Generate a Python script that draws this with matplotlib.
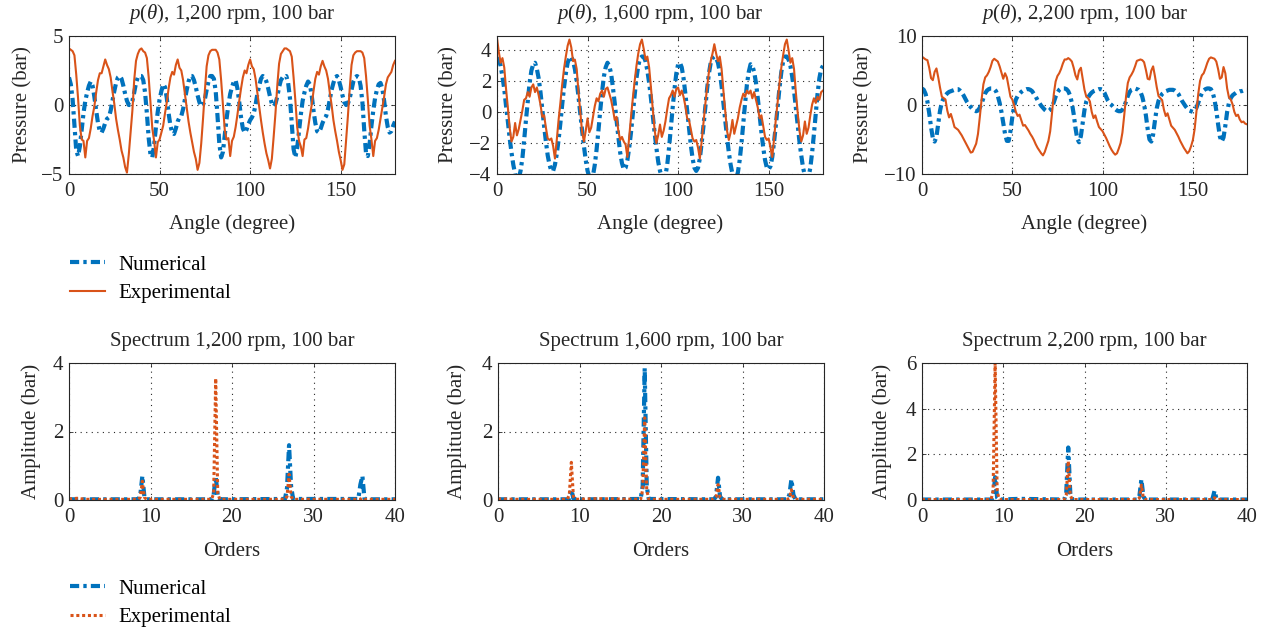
import numpy as np
import matplotlib
matplotlib.use("Agg")
import matplotlib.pyplot as plt

plt.rcParams["font.family"] = ["Liberation Serif", "DejaVu Serif"]
plt.rcParams["mathtext.fontset"] = "custom"
plt.rcParams["mathtext.rm"] = "Liberation Serif"
plt.rcParams["mathtext.it"] = "Liberation Serif:italic"
plt.rcParams["font.size"] = 15

BLUE = "#0072BD"
ORANGE = "#D95319"
DARK = "#262626"
FS = 15

# ---- crank angle samples (degree) ----
ANGLE = np.arange(0, 181)

# ---- pressure ripple, 1,200 rpm ----
P1200_NUM = [
    2.0, 1.5, 0.4, -1.5, -3.3, -3.7, -3.0, -1.8, -0.6, 0.3,
    0.9, 1.4, 1.7, 1.4, 0.6, -0.4, -1.3, -1.9, -2.0, -1.7,
    -1.3, -1.0, -0.9, -0.4, 0.3, 1.0, 1.6, 2.0, 2.1, 1.9,
    1.4, 0.8, 0.3, 0.0, 0.0, 0.3, 0.9, 1.6, 2.0, 2.1,
    2.1, 1.8, 0.9, -0.6, -2.4, -3.6, -3.8, -2.9, -1.6, -0.5,
    0.4, 1.0, 1.5, 1.3, 0.5, -0.6, -1.5, -2.0, -2.1, -1.7,
    -1.2, -0.9, -0.8, -0.3, 0.4, 1.1, 1.7, 2.1, 2.1, 1.8,
    1.3, 0.7, 0.2, -0.1, 0.0, 0.4, 1.1, 1.7, 2.1, 2.1,
    1.9, 1.0, -0.8, -2.8, -3.8, -3.4, -2.2, -1.0, 0.0, 0.8,
    1.3, 1.7, 1.8, 1.2, 0.2, -0.9, -1.7, -2.0, -1.8, -1.4,
    -1.1, -0.9, -0.6, 0.0, 0.8, 1.4, 1.9, 2.1, 2.0, 1.7,
    1.2, 0.6, 0.1, -0.1, 0.1, 0.6, 1.3, 1.8, 2.0, 2.0,
    2.1, 1.6, 0.5, -1.4, -3.2, -3.8, -3.1, -1.9, -0.7, 0.3,
    0.9, 1.4, 1.7, 1.5, 0.7, -0.4, -1.3, -1.9, -2.0, -1.7,
    -1.3, -1.0, -0.8, -0.3, 0.4, 1.1, 1.6, 2.0, 2.1, 1.8,
    1.3, 0.7, 0.2, 0.0, 0.1, 0.5, 1.1, 1.7, 2.0, 2.1,
    2.0, 1.4, 0.2, -1.8, -3.5, -3.7, -2.8, -1.5, -0.4, 0.5,
    1.1, 1.5, 1.6, 1.2, 0.3, -0.8, -1.6, -2.0, -1.9, -1.5,
    -1.2,
]
P1200_EXP = [
    4.1, 4.0, 3.9, 3.6, 2.2, 0.5, -1.5, -2.5, -2.6, -3.8,
    -2.6, -2.4, -1.7, -0.8, -0.1, 0.9, 1.8, 2.3, 2.3, 2.8,
    3.3, 2.9, 2.6, 2.0, 1.0, 0.1, -1.0, -1.8, -2.5, -3.3,
    -3.8, -4.5, -4.9, -3.6, -2.0, -0.4, 1.8, 3.2, 3.7, 4.0,
    4.1, 3.9, 3.8, 3.4, 2.0, 0.2, -1.7, -2.6, -3.8, -2.7,
    -2.5, -2.0, -1.5, -0.6, 0.2, 1.2, 2.0, 2.4, 2.2, 2.9,
    3.3, 2.7, 2.5, 1.8, 0.8, -0.2, -1.2, -2.0, -2.7, -3.4,
    -3.9, -4.7, -4.2, -2.8, -1.0, 1.0, 2.8, 3.6, 3.9, 4.0,
    4.0, 4.0, 3.8, 3.3, 1.8, 0.0, -1.8, -2.5, -2.4, -3.7,
    -2.6, -2.3, -1.6, -0.7, 0.3, 1.2, 2.0, 2.5, 2.3, 2.9,
    3.3, 2.8, 2.6, 1.9, 0.9, -0.1, -1.1, -2.0, -2.8, -3.5,
    -4.0, -4.6, -3.9, -2.3, -0.6, 1.4, 3.0, 3.7, 3.9, 4.1,
    4.1, 4.0, 3.9, 3.5, 2.0, 0.3, -1.6, -2.6, -3.0, -3.7,
    -2.5, -2.4, -1.7, -0.8, 0.0, 1.0, 1.9, 2.4, 2.2, 2.8,
    3.2, 2.8, 2.5, 1.9, 0.9, 0.0, -1.1, -1.9, -2.6, -3.4,
    -4.0, -4.7, -4.3, -2.6, -0.8, 1.2, 2.9, 3.6, 3.8, 3.9,
    3.9, 3.9, 3.8, 3.4, 2.1, 0.4, -1.5, -2.5, -3.7, -2.6,
    -2.4, -1.8, -1.0, -0.2, 0.6, 1.5, 2.0, 2.2, 2.4, 2.9,
    3.2,
]

# ---- pressure ripple, 1,600 rpm ----
P1600_NUM = [
    3.5, 3.4, 3.0, 2.3, 1.5, 0.4, -0.6, -1.7, -2.6, -3.4,
    -4.0, -4.3, -4.3, -3.8, -3.0, -1.8, -0.5, 0.7, 1.9, 2.7,
    3.1, 3.2, 2.8, 2.2, 1.3, 0.2, -0.9, -1.9, -2.8, -3.4,
    -3.8, -3.8, -3.4, -2.7, -1.8, -0.7, 0.5, 1.6, 2.5, 3.2,
    3.5, 3.6, 3.3, 2.8, 2.0, 1.0, -0.1, -1.2, -2.2, -3.1,
    -3.8, -4.2, -4.4, -4.1, -3.4, -2.4, -1.2, 0.1, 1.3, 2.3,
    2.9, 3.2, 3.0, 2.5, 1.6, 0.6, -0.5, -1.6, -2.6, -3.3,
    -3.7, -3.6, -3.1, -2.3, -1.3, -0.1, 1.1, 2.2, 3.0, 3.5,
    3.6, 3.6, 3.3, 2.7, 1.9, 0.9, -0.2, -1.3, -2.3, -3.2,
    -3.8, -4.2, -4.4, -4.1, -3.4, -2.3, -1.0, 0.3, 1.5, 2.5,
    3.1, 3.2, 2.9, 2.2, 1.2, 0.1, -1.0, -2.1, -3.0, -3.6,
    -3.8, -3.6, -3.0, -2.0, -0.9, 0.3, 1.5, 2.5, 3.2, 3.5,
    3.6, 3.5, 3.2, 2.6, 1.7, 0.6, -0.5, -1.6, -2.6, -3.4,
    -4.0, -4.3, -4.3, -3.9, -3.1, -2.0, -0.7, 0.6, 1.8, 2.6,
    3.1, 3.0, 2.6, 1.9, 0.9, -0.2, -1.3, -2.3, -3.1, -3.6,
    -3.7, -3.5, -2.9, -1.9, -0.8, 0.4, 1.6, 2.6, 3.3, 3.6,
    3.6, 3.4, 3.0, 2.3, 1.4, 0.3, -0.8, -1.9, -2.8, -3.6,
    -4.1, -4.4, -4.2, -3.6, -2.6, -1.4, -0.1, 1.2, 2.2, 2.8,
    3.0,
]
P1600_EXP = [
    4.8, 3.9, 3.2, 3.5, 2.9, 1.5, 0.3, -1.0, -1.9, -1.6,
    -0.7, -1.5, -1.1, -0.5, 0.1, 0.8, 0.9, 1.3, 1.0, 1.6,
    1.8, 1.3, 1.6, 1.1, 0.5, -0.3, -0.2, -1.0, -1.7, -1.8,
    -1.7, -2.2, -3.0, -1.8, -0.5, 0.6, 1.8, 2.8, 3.6, 4.3,
    4.7, 4.2, 3.3, 3.4, 2.8, 1.3, 0.0, -1.3, -1.9, -1.2,
    -0.4, -1.3, -1.0, -0.3, 0.4, 0.9, 0.7, 1.2, 1.4, 1.0,
    1.5, 1.6, 1.2, 0.8, 0.2, -0.5, -0.3, -1.2, -1.8, -1.6,
    -1.9, -2.1, -2.9, -1.6, -0.3, 0.9, 2.0, 3.0, 3.8, 4.4,
    4.7, 4.1, 3.4, 3.6, 2.9, 1.6, 0.2, -1.1, -2.0, -1.5,
    -0.8, -1.6, -1.2, -0.6, 0.2, 0.9, 1.1, 1.4, 1.0, 1.5,
    1.6, 1.1, 1.4, 1.0, 0.4, -0.4, -0.5, -1.1, -1.7, -1.9,
    -1.8, -2.3, -3.0, -1.9, -0.7, 0.5, 1.6, 2.6, 3.3, 3.8,
    4.4, 3.8, 3.3, 3.6, 2.8, 1.4, 0.1, -1.2, -1.8, -1.3,
    -0.5, -1.4, -0.9, -0.4, 0.3, 0.8, 1.2, 1.0, 1.4, 1.2,
    1.4, 0.9, 1.3, 0.8, 0.3, -0.4, -0.2, -0.9, -1.6, -1.8,
    -1.7, -2.3, -2.9, -1.7, -0.4, 0.7, 1.9, 2.9, 3.7, 4.4,
    4.7, 4.0, 3.2, 3.5, 2.8, 1.3, 0.0, -1.2, -1.9, -1.5,
    -0.6, -1.4, -1.0, -0.2, 0.5, 0.9, 0.6, 1.0, 0.8, 1.3,
    1.4,
]

# ---- pressure ripple, 2,200 rpm ----
P2200_NUM = [
    2.4, 2.2, 1.6, 0.5, -1.2, -3.2, -4.8, -5.3, -4.6, -2.7,
    -0.8, 0.4, 1.0, 1.4, 1.7, 1.9, 2.0, 2.1, 2.2, 2.3,
    2.3, 2.1, 1.8, 1.4, 0.9, 0.4, 0.0, -0.3, -0.6, -0.8,
    -0.9, -0.8, -0.4, 0.2, 1.0, 1.7, 2.1, 2.3, 2.4, 2.4,
    2.3, 2.0, 1.3, 0.3, -1.0, -2.6, -4.2, -5.2, -5.2, -3.8,
    -1.8, -0.2, 0.8, 1.3, 1.6, 1.9, 2.1, 2.2, 2.3, 2.3,
    2.2, 2.0, 1.6, 1.2, 0.7, 0.3, -0.1, -0.4, -0.7, -0.9,
    -0.9, -0.7, -0.3, 0.4, 1.2, 1.8, 2.2, 2.4, 2.4, 2.4,
    2.3, 2.0, 1.4, 0.3, -1.3, -3.3, -4.9, -5.4, -4.5, -2.6,
    -0.7, 0.5, 1.1, 1.5, 1.8, 2.0, 2.1, 2.2, 2.3, 2.3,
    2.2, 1.8, 1.2, 0.6, 0.2, 0.0, -0.3, -0.6, -0.8, -0.9,
    -0.9, -0.7, -0.2, 0.5, 1.3, 1.9, 2.2, 2.3, 2.4, 2.3,
    2.2, 1.9, 1.2, 0.1, -1.5, -3.5, -5.0, -5.3, -4.3, -2.3,
    -0.5, 0.6, 1.2, 1.6, 1.8, 2.0, 2.1, 2.2, 2.2, 2.2,
    2.1, 1.9, 1.6, 1.1, 0.6, 0.2, -0.2, -0.5, -0.8, -0.9,
    -1.0, -0.8, -0.4, 0.3, 1.1, 1.7, 2.1, 2.3, 2.4, 2.4,
    2.3, 1.8, 0.8, -0.8, -2.8, -4.6, -5.3, -4.7, -3.0, -1.0,
    0.3, 1.0, 1.4, 1.6, 1.8, 1.9, 2.0, 2.0, 2.1, 2.2,
    2.2,
]
P2200_EXP = [
    7.0, 6.8, 6.6, 6.5, 5.4, 3.9, 3.6, 4.8, 5.3, 4.0,
    2.5, 1.2, 1.0, 0.8, -0.8, -1.8, -1.3, -2.2, -3.2, -3.4,
    -3.6, -4.0, -4.4, -4.9, -5.4, -5.9, -6.4, -6.9, -6.8, -6.2,
    -5.6, -4.2, -1.8, 0.8, 3.0, 4.0, 4.3, 4.8, 5.5, 6.4,
    6.7, 6.5, 6.3, 5.6, 4.7, 3.8, 4.6, 4.0, 2.6, 1.2,
    0.8, 0.0, -1.0, -1.6, -1.4, -2.2, -3.0, -2.9, -3.3, -3.7,
    -4.2, -4.6, -5.1, -5.7, -6.2, -6.6, -7.0, -7.3, -6.8, -6.0,
    -5.2, -3.8, -1.2, 1.6, 3.4, 4.2, 4.6, 5.2, 6.0, 6.6,
    6.6, 6.8, 6.6, 6.3, 5.4, 4.3, 3.7, 5.0, 5.4, 3.8,
    2.2, 1.2, 1.0, 0.5, -1.0, -1.9, -1.5, -2.4, -3.2, -3.5,
    -3.8, -4.3, -4.8, -5.4, -6.0, -6.5, -6.9, -7.2, -7.0, -6.3,
    -5.5, -4.0, -1.5, 1.2, 3.2, 4.0, 4.4, 4.9, 5.6, 6.4,
    6.5, 6.6, 6.5, 6.2, 5.1, 3.8, 3.7, 5.0, 5.6, 4.2,
    2.6, 1.3, 1.0, 0.7, -0.7, -1.6, -1.2, -2.1, -3.0, -3.3,
    -3.6, -4.1, -4.6, -5.2, -5.7, -6.2, -6.6, -7.0, -6.7, -6.0,
    -5.1, -3.5, -0.9, 1.6, 3.5, 4.3, 4.6, 5.3, 6.1, 6.7,
    6.9, 6.8, 6.7, 6.3, 5.2, 3.8, 4.0, 5.5, 4.6, 2.4,
    1.1, 0.8, 0.1, -1.0, -1.6, -1.4, -2.1, -2.5, -2.4, -2.7,
    -2.8,
]

# ---- order spectra ----
ORDERS = [0, 1, 2, 8.5, 8.75, 9, 9.25, 9.5, 12, 17.5, 17.75, 18, 18.25, 18.5,
          26.5, 26.75, 27, 27.25, 27.5, 35.5, 35.75, 36, 36.25, 36.5, 40]
S1200_NUM = [0.02, 0.02, 0.02, 0.02, 0.15, 0.70, 0.10, 0.02, 0.02,
             0.02, 0.15, 0.70, 0.12, 0.02, 0.03, 0.35, 1.60, 0.40, 0.03,
             0.03, 0.45, 0.70, 0.05, 0.02, 0.02]
S1200_EXP = [0.03, 0.05, 0.02, 0.02, 0.08, 0.55, 0.08, 0.02, 0.02,
             0.02, 0.20, 3.55, 0.20, 0.02, 0.02, 0.10, 0.75, 0.10, 0.02,
             0.02, 0.02, 0.06, 0.02, 0.02, 0.02]
S1600_NUM = [0.02, 0.02, 0.02, 0.02, 0.05, 0.30, 0.05, 0.02, 0.02,
             0.03, 0.40, 3.85, 0.40, 0.03, 0.02, 0.10, 0.65, 0.10, 0.02,
             0.02, 0.15, 0.60, 0.15, 0.02, 0.02]
S1600_EXP = [0.03, 0.03, 0.02, 0.02, 0.15, 1.10, 0.10, 0.02, 0.04,
             0.02, 0.30, 2.40, 0.30, 0.02, 0.02, 0.08, 0.45, 0.08, 0.02,
             0.02, 0.05, 0.30, 0.05, 0.02, 0.02]
S2200_NUM = [0.02, 0.02, 0.02, 0.02, 0.10, 1.00, 0.10, 0.02, 0.05,
             0.02, 0.30, 2.30, 0.30, 0.02, 0.02, 0.15, 0.90, 0.15, 0.02,
             0.02, 0.05, 0.40, 0.05, 0.02, 0.02]
S2200_EXP = [0.02, 0.02, 0.02, 0.02, 0.40, 6.00, 0.40, 0.02, 0.02,
             0.02, 0.20, 1.70, 0.20, 0.02, 0.02, 0.08, 0.65, 0.08, 0.02,
             0.02, 0.02, 0.10, 0.02, 0.02, 0.02]

SPEEDS = ["1,200", "1,600", "2,200"]
PRESSURE = [(P1200_NUM, P1200_EXP), (P1600_NUM, P1600_EXP), (P2200_NUM, P2200_EXP)]
SPECTRA = [(S1200_NUM, S1200_EXP), (S1600_NUM, S1600_EXP), (S2200_NUM, S2200_EXP)]
P_YLIM = [(-5, 5), (-4, 4.93), (-10, 10)]
P_YTICKS = [[-5, 0, 5], [-4, -2, 0, 2, 4], [-10, 0, 10]]
S_YLIM = [(0, 4), (0, 4), (0, 6)]
S_YTICKS = [[0, 2, 4], [0, 2, 4], [0, 2, 4, 6]]

W, H = 1267, 632
TOP_LEFT = [69, 497, 922]
BOT_LEFT = [69, 498, 922]
AX_W = [326, 326, 325]
P_YLAB_X = [-0.113, -0.118, -0.15]
S_YLAB_X = [-0.085, -0.094, -0.092]

DASHDOT = (0, (2.2, 1.0, 0.8, 1.0))
DOTTED = (0, (1.0, 0.9))


def style_axes(ax):
    for sp in ax.spines.values():
        sp.set_color(DARK)
        sp.set_linewidth(0.8)
    ax.tick_params(direction="in", length=3, width=0.6, colors=DARK,
                   labelcolor=DARK, top=True, right=True, labelsize=FS)
    ax.tick_params(axis="x", pad=6)
    ax.tick_params(axis="y", pad=4)
    ax.grid(True, color=DARK, linestyle=(0, (1, 4)), linewidth=0.8)
    ax.set_axisbelow(True)


def add_legend(ax, top_px):
    fig.legend(*ax.get_legend_handles_labels(), loc="upper left",
               bbox_to_anchor=(70 / W, 1 - top_px / H), frameon=False,
               fontsize=FS, borderpad=0, borderaxespad=0,
               handlelength=1.7, handletextpad=0.6, labelspacing=0.42)


fig = plt.figure(figsize=(W / 100, H / 100), dpi=100)

for i in range(3):
    # pressure ripple vs angle
    ax = fig.add_axes([TOP_LEFT[i] / W, 1 - 174 / H, AX_W[i] / W, 138 / H])
    num, exp = PRESSURE[i]
    ax.plot(ANGLE, num, color=BLUE, lw=3.0, linestyle=DASHDOT, label="Numerical")
    ax.plot(ANGLE, exp, color=ORANGE, lw=1.5, label="Experimental")
    ax.set_xlim(0, 180)
    ax.set_ylim(*P_YLIM[i])
    ax.set_xticks([0, 50, 100, 150])
    ax.set_yticks(P_YTICKS[i])
    style_axes(ax)
    ax.set_title(r"$p(\theta)$, " + SPEEDS[i] + " rpm, 100 bar", fontsize=FS,
                 pad=12, color=DARK)
    ax.set_xlabel("Angle (degree)", fontsize=FS, color=DARK)
    ax.set_ylabel("Pressure (bar)", fontsize=FS, color=DARK)
    ax.xaxis.set_label_coords(0.5, -0.29)
    ax.yaxis.set_label_coords(P_YLAB_X[i], 0.5)
    if i == 0:
        add_legend(ax, 255)

    # order spectrum
    ax = fig.add_axes([BOT_LEFT[i] / W, 1 - 500 / H, AX_W[i] / W, 137 / H])
    num, exp = SPECTRA[i]
    ax.plot(ORDERS, num, color=BLUE, lw=3.0, linestyle=DASHDOT, label="Numerical")
    ax.plot(ORDERS, exp, color=ORANGE, lw=2.2, linestyle=DOTTED, label="Experimental")
    ax.set_xlim(0, 40)
    ax.set_ylim(*S_YLIM[i])
    ax.set_xticks([0, 10, 20, 30, 40])
    ax.set_yticks(S_YTICKS[i])
    style_axes(ax)
    ax.set_title("Spectrum " + SPEEDS[i] + " rpm, 100 bar", fontsize=FS,
                 pad=12, color=DARK)
    ax.set_xlabel("Orders", fontsize=FS, color=DARK)
    ax.set_ylabel("Amplitude (bar)", fontsize=FS, color=DARK)
    ax.xaxis.set_label_coords(0.5, -0.31)
    ax.yaxis.set_label_coords(S_YLAB_X[i], 0.5)
    if i == 0:
        add_legend(ax, 579)

fig.savefig("out.png", dpi=100)
